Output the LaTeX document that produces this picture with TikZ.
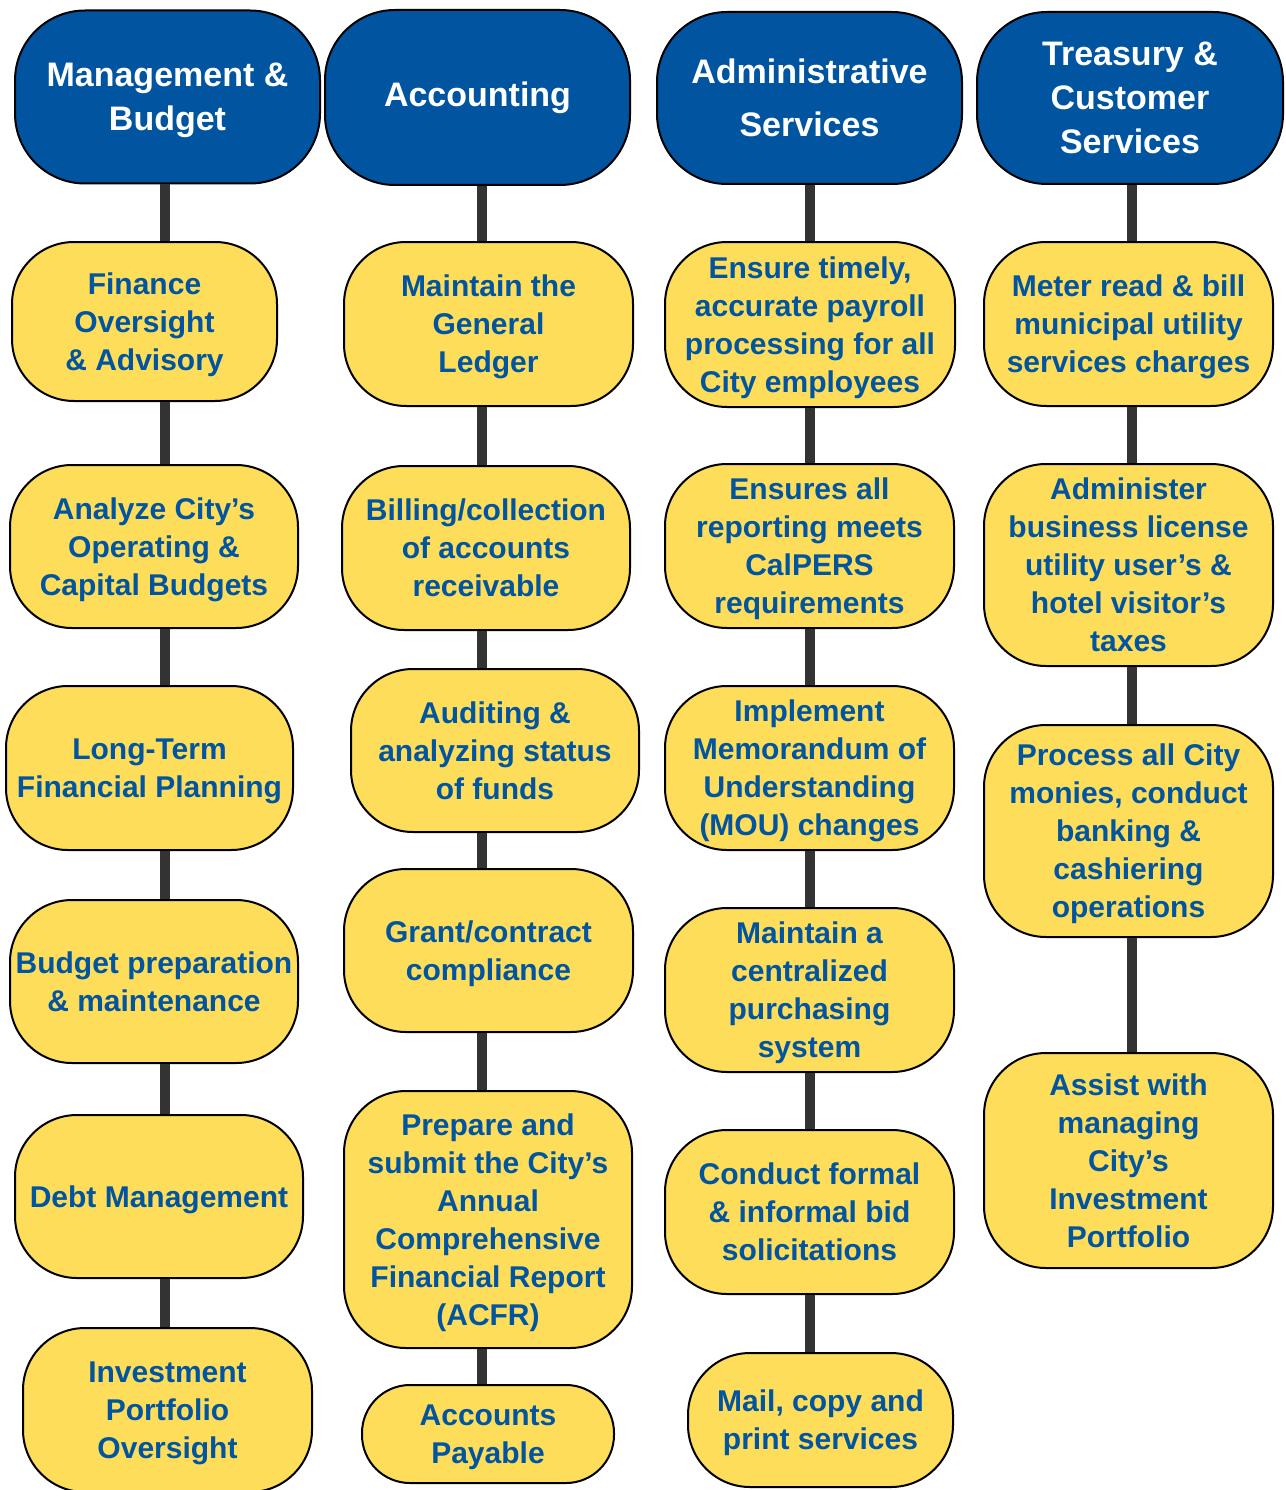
\documentclass[tikz,border=0pt]{standalone}
\usepackage{fontspec}
\setmainfont{Liberation Sans}
\usepackage{tikz}
\usetikzlibrary{positioning}
\definecolor{hdrblue}{RGB}{0,84,160}
\definecolor{txtblue}{RGB}{0,84,160}
\definecolor{boxyellow}{RGB}{254,221,90}
\definecolor{linkgray}{RGB}{51,51,51}
\tikzstyle{link} = [draw=linkgray, line width=10pt]

\begin{document}
\begin{tikzpicture}[x=1pt, y=-1pt,
    head/.style={draw=black, line width=2pt, fill=hdrblue, text=white, rounded corners=70pt,
      align=center, inner sep=0pt, minimum width=305pt, minimum height=173pt,
      font=\fontsize{34}{44}\selectfont\bfseries},
    task/.style={draw=black, line width=2pt, fill=boxyellow, text=txtblue, rounded corners=62pt,
      align=center, inner sep=0pt, minimum width=289pt, minimum height=164pt, text depth=0pt,
      font=\fontsize{30}{38}\selectfont\bfseries}]
  \useasboundingbox (0,0) rectangle (1285,1490);
  \clip (0,0) rectangle (1285,1490);
  % Spalten fuer die Verbindungslinien
  \coordinate (c1) at (165,0);
  \coordinate (c2) at (482,0);
  \coordinate (c3) at (810,0);
  \coordinate (c4) at (1132,0);
  % Management & Budget
  \node[head, text depth=0pt] (mb) at (167.5,97) {Management \&\\Budget};
  \node[task, minimum width=265pt, minimum height=159pt] (mb1) at (144.5,321.5) {Finance\\Oversight\\\& Advisory};
  \node[task, minimum width=288pt, minimum height=163pt] (mb2) at (154,546.5) {Analyze City’s\\Operating \&\\Capital Budgets};
  \node[task, minimum width=287pt] (mb3) at (149.5,768) {Long-Term\\Financial Planning};
  \node[task, minimum width=288pt, minimum height=163pt] (mb4) at (154,981.5) {Budget preparation\\\& maintenance};
  \node[task, minimum width=288pt, minimum height=163pt] (mb5) at (159,1196.5) {Debt Management};
  \node[task] (mb6) at (167.5,1410) {Investment\\Portfolio\\Oversight};
  % Accounting
  \node[head, minimum height=175pt] (ac) at (477.5,97.5) {Accounting};
  \node[task] (ac1) at (488.5,324) {Maintain the\\General\\Ledger};
  \node[task, minimum width=288pt] (ac2) at (486,548) {Billing/collection\\of accounts\\receivable};
  \node[task, minimum width=288pt, minimum height=163pt] (ac3) at (495,750.5) {Auditing \&\\analyzing status\\of funds};
  \node[task, minimum height=163pt] (ac4) at (488.5,950.5) {Grant/contract\\compliance};
  \node[task, minimum width=288pt, minimum height=257pt] (ac5) at (488,1219.5) {Prepare and\\submit the City’s\\Annual\\Comprehensive\\Financial Report\\(ACFR)};
  \node[task, minimum width=252pt, minimum height=98pt, rounded corners=48pt] (ac6) at (488,1434) {Accounts\\Payable};
  % Administrative Services
  \node[head, minimum height=172pt] (ad) at (809.5,98) {Administrative\\[9pt]Services};
  \node[task, minimum width=290pt, minimum height=165pt] (ad1) at (810,324.5) {Ensure timely,\\accurate payroll\\processing for all\\City employees};
  \node[task] (ad2) at (809.5,546) {Ensures all\\reporting meets\\CalPERS\\requirements};
  \node[task] (ad3) at (809.5,768) {Implement\\Memorandum of\\Understanding\\(MOU) changes};
  \node[task] (ad4) at (809.5,990) {Maintain a\\centralized\\purchasing\\system};
  \node[task] (ad5) at (809.5,1212) {Conduct formal\\\& informal bid\\solicitations};
  \node[task, minimum width=265pt, minimum height=134pt] (ad6) at (820.5,1420) {Mail, copy and\\print services};
  % Treasury & Customer Services
  \node[head, minimum width=306pt, minimum height=172pt] (tc) at (1130,98) {Treasury \&\\Customer\\Services};
  \node[task] (tc1) at (1128.5,324) {Meter read \& bill\\municipal utility\\services charges};
  \node[task, minimum height=202pt] (tc2) at (1128.5,565) {Administer\\business license\\utility user’s \&\\hotel visitor’s\\taxes};
  \node[task, minimum height=212pt] (tc3) at (1128.5,831) {Process all City\\monies, conduct\\banking \&\\cashiering\\operations};
  \node[task, minimum height=215pt] (tc4) at (1128.5,1160.5) {Assist with\\managing\\City’s\\Investment\\Portfolio};
  % Verbindungen
  \draw[link] (mb.south -| c1) -- (mb1.north -| c1) (mb1.south -| c1) -- (mb2.north -| c1)
    (mb2.south -| c1) -- (mb3.north -| c1) (mb3.south -| c1) -- (mb4.north -| c1)
    (mb4.south -| c1) -- (mb5.north -| c1) (mb5.south -| c1) -- (mb6.north -| c1);
  \draw[link] (ac.south -| c2) -- (ac1.north -| c2) (ac1.south -| c2) -- (ac2.north -| c2)
    (ac2.south -| c2) -- (ac3.north -| c2) (ac3.south -| c2) -- (ac4.north -| c2)
    (ac4.south -| c2) -- (ac5.north -| c2) (ac5.south -| c2) -- (ac6.north -| c2);
  \draw[link] (ad.south -| c3) -- (ad1.north -| c3) (ad1.south -| c3) -- (ad2.north -| c3)
    (ad2.south -| c3) -- (ad3.north -| c3) (ad3.south -| c3) -- (ad4.north -| c3)
    (ad4.south -| c3) -- (ad5.north -| c3) (ad5.south -| c3) -- (ad6.north -| c3);
  \draw[link] (tc.south -| c4) -- (tc1.north -| c4) (tc1.south -| c4) -- (tc2.north -| c4)
    (tc2.south -| c4) -- (tc3.north -| c4) (tc3.south -| c4) -- (tc4.north -| c4);
\end{tikzpicture}
\end{document}
